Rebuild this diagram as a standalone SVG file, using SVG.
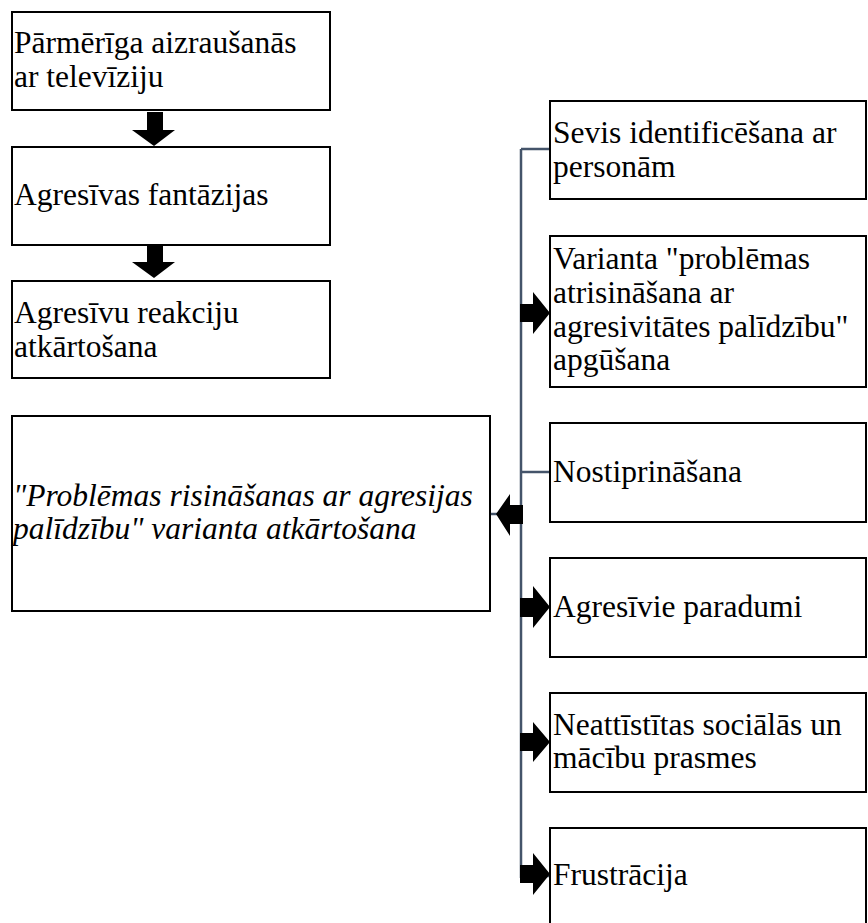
<svg xmlns="http://www.w3.org/2000/svg" width="868" height="923" viewBox="0 0 868 923">
<style>
.box{fill:#fff;stroke:#000;stroke-width:2}
.t{font-family:"Liberation Serif","DejaVu Serif",serif;font-size:31.5px;fill:#000}
.i{font-style:italic;font-size:31.5px}
.ln{fill:none;stroke:#44546a;stroke-width:2.5}
.ar{fill:#000}
</style>
<rect width="868" height="923" fill="#fff"/>
<g id="connectors">
<line class="ln" x1="521" y1="149" x2="521" y2="878"/>
<line class="ln" x1="521" y1="149" x2="550" y2="149"/>
<line class="ln" x1="521" y1="472" x2="550" y2="472"/>
<line class="ln" x1="490" y1="514" x2="497" y2="514"/>
<line class="ln" x1="546" y1="876" x2="550" y2="876"/>
<polygon class="ar" points="147,112 163,112 163,130 175,130 154,146 132,130 147,130"/>
<polygon class="ar" points="147,246 163,246 163,262 175,262 154,278 132,262 147,262"/>
<polygon class="ar" points="520,304 533,304 533,292 550,313 533,334 533,322 520,322"/>
<polygon class="ar" points="523,505 510,505 510,494 496,514 510,536 510,524 523,524"/>
<polygon class="ar" points="520,598 533,598 533,586 550,607 533,628 533,617 520,617"/>
<polygon class="ar" points="520,733 533,733 533,722 550,742 533,762 533,751 520,751"/>
<polygon class="ar" points="520,865 533,865 533,853 550,874 533,895 533,883 520,883"/>
</g>
<g id="n1"><rect class="box" x="12" y="12" width="318" height="98"/><text class="t" x="14" y="53">Pārmērīga aizraušanās</text><text class="t" x="14" y="87">ar televīziju</text></g>
<g id="n2"><rect class="box" x="12" y="147" width="318" height="98"/><text class="t" x="14" y="205">Agresīvas fantāzijas</text></g>
<g id="n3"><rect class="box" x="12" y="281" width="318" height="97"/><text class="t" x="14" y="323">Agresīvu reakciju</text><text class="t" x="14" y="357">atkārtošana</text></g>
<g id="n4"><rect class="box" x="12" y="416" width="478" height="195"/><text class="t i" x="13" y="506">"Problēmas risināšanas ar agresijas</text><text class="t i" x="13" y="539">palīdzību" varianta atkārtošana</text></g>
<g id="r1"><rect class="box" x="550" y="101" width="316" height="98"/><text class="t" x="553" y="143">Sevis identificēšana ar</text><text class="t" x="553" y="177">personām</text></g>
<g id="r2"><rect class="box" x="550" y="236" width="316" height="151"/><text class="t" x="553" y="269">Varianta "problēmas</text><text class="t" x="553" y="303">atrisināšana ar</text><text class="t" x="553" y="337">agresivitātes palīdzību"</text><text class="t" x="553" y="370">apgūšana</text></g>
<g id="r3"><rect class="box" x="550" y="423" width="316" height="99"/><text class="t" x="553" y="482">Nostiprināšana</text></g>
<g id="r4"><rect class="box" x="550" y="558" width="316" height="99"/><text class="t" x="553" y="617">Agresīvie paradumi</text></g>
<g id="r5"><rect class="box" x="550" y="693" width="316" height="99"/><text class="t" x="553" y="735">Neattīstītas sociālās un</text><text class="t" x="553" y="768">mācību prasmes</text></g>
<g id="r6"><rect class="box" x="550" y="828" width="316" height="99"/><text class="t" x="553" y="885">Frustrācija</text></g>
</svg>
